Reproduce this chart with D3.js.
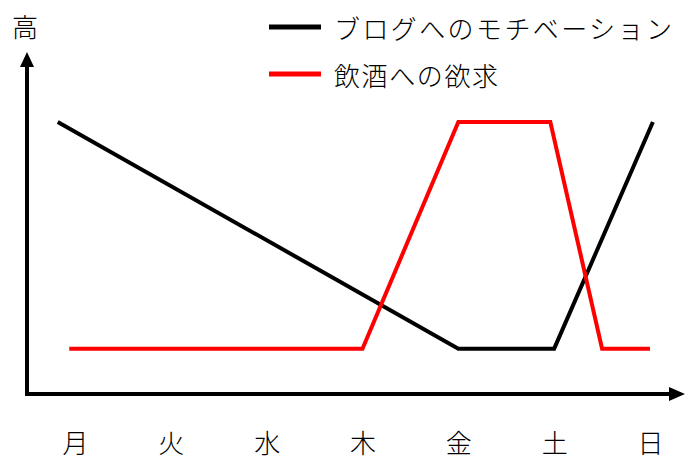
<!DOCTYPE html>
<html><head><meta charset="utf-8">
<script src="https://cdn.jsdelivr.net/npm/d3@7"></script>
<style>
html,body{margin:0;padding:0;background:#fff;}
text{font-family:"Noto Sans CJK JP","Noto Sans",sans-serif;font-weight:300;}
</style></head>
<body><svg id="c" width="688" height="460"></svg>
<script>
const days = ["月","火","水","木","金","土","日"];
const seriesNames = ["ブログへのモチベーション","飲酒への欲求"];
const seriesColors = ["#000000","#ff0000"];
// positions in day-index units, levels (1 = low, 6 = high)
const blogX = [-0.18, 4, 5, 6.03];
const blogY = [6, 1, 1, 6];
const drinkX = [-0.06, 3, 4, 4.96, 5.5, 6];
const drinkY = [1, 1, 6, 6, 1, 1];
const yLabel = "高";

const svg = d3.select("#c");
const x = d3.scaleLinear().domain([0, 6]).range([75, 650]);
const y = d3.scaleLinear().domain([0, 6]).range([394, 122]);

// axes lines with arrows
const ax0 = 27, ay0 = 394;
svg.append("line").attr("x1", ax0).attr("y1", ay0 + 2).attr("x2", ax0).attr("y2", 66)
  .attr("stroke", "#000").attr("stroke-width", 4);
svg.append("path").attr("d", `M${ax0-7},67 L${ax0},52 L${ax0+7},67 Z`).attr("fill", "#000");
svg.append("line").attr("x1", ax0 - 2).attr("y1", ay0).attr("x2", 670).attr("y2", ay0)
  .attr("stroke", "#000").attr("stroke-width", 4);
svg.append("path").attr("d", `M669,${ay0-7} L685,${ay0} L669,${ay0+7} Z`).attr("fill", "#000");

// x tick labels through d3 axis
const xa = svg.append("g").attr("transform", "translate(0,428)")
  .call(d3.axisBottom(x).tickValues(d3.range(days.length)).tickFormat(i => days[i]).tickSize(0).tickPadding(0));
xa.select(".domain").remove();
xa.selectAll("text").attr("font-size", 26).attr("fill", "#000")
  .attr("dy", null).attr("y", 13).attr("dominant-baseline", "central")
  .style("font-family", '"Noto Sans CJK JP",sans-serif').style("font-weight", 300);

svg.append("text").attr("x", 25).attr("y", 25).attr("text-anchor", "middle")
  .attr("dominant-baseline", "central").attr("font-size", 26).text(yLabel);

const line = d3.line().x(d => x(d[0])).y(d => y(d[1])).curve(d3.curveLinear);
const series = [d3.zip(blogX, blogY), d3.zip(drinkX, drinkY)];
series.forEach((s, i) => {
  svg.append("path").attr("d", line(s)).attr("fill", "none")
    .attr("stroke", seriesColors[i]).attr("stroke-width", 4)
    .attr("stroke-linejoin", "miter").attr("stroke-linecap", "butt");
});

// legend
const legY = [27, 74];
const legSpacing = [2.4, 1.6];
seriesNames.forEach((n, i) => {
  svg.append("line").attr("x1", 269).attr("x2", 321).attr("y1", legY[i]).attr("y2", legY[i])
    .attr("stroke", seriesColors[i]).attr("stroke-width", 5);
  svg.append("text").attr("x", 334).attr("y", legY[i]).attr("dominant-baseline", "central")
    .attr("font-size", 26).attr("letter-spacing", legSpacing[i]).text(n);
});
</script></body></html>
